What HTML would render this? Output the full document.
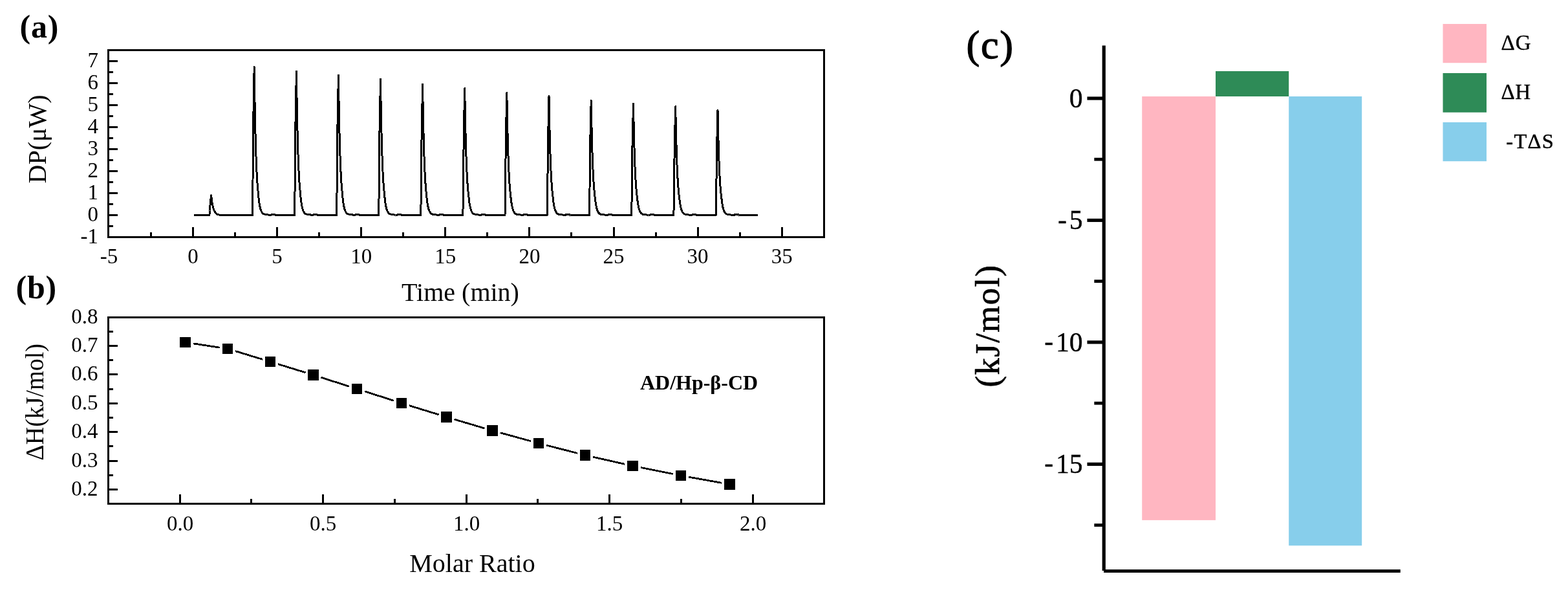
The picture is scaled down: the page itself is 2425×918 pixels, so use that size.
<!DOCTYPE html>
<html lang="en"><head><meta charset="utf-8"><title>ITC figure</title>
<style>
html,body{margin:0;padding:0;background:#fff;}
body{width:2425px;height:918px;overflow:hidden;}
svg{display:block;position:absolute;left:0;top:0;}
text{font-family:"Liberation Serif","DejaVu Serif",serif;fill:#000;}
.ax{stroke:#000;stroke-width:3;fill:none;shape-rendering:crispEdges;}
.tk{font-size:33px;}
.tt{font-size:40px;}
.pl{font-size:50px;font-weight:bold;}
.fb{stroke:#000;stroke-linejoin:round;}
</style></head><body>
<svg width="2425" height="918" viewBox="0 0 2425 918">
<rect x="0" y="0" width="2425" height="918" fill="#fff"/>
<g id="panel-a">
<rect x="166" y="76" width="1110" height="3" fill="#000" shape-rendering="crispEdges"/>
<rect x="166" y="365" width="1110" height="3" fill="#000" shape-rendering="crispEdges"/>
<rect x="166" y="76" width="3" height="292" fill="#000" shape-rendering="crispEdges"/>
<rect x="1273" y="76" width="3" height="292" fill="#000" shape-rendering="crispEdges"/>
<text x="152" y="376" class="tk" text-anchor="end" >-1</text>
<rect x="169" y="348" width="6" height="3" fill="#000" shape-rendering="crispEdges"/>
<rect x="169" y="331" width="13" height="3" fill="#000" shape-rendering="crispEdges"/>
<text x="152" y="342" class="tk" text-anchor="end" >0</text>
<rect x="169" y="314" width="6" height="3" fill="#000" shape-rendering="crispEdges"/>
<rect x="169" y="297" width="13" height="3" fill="#000" shape-rendering="crispEdges"/>
<text x="152" y="308" class="tk" text-anchor="end" >1</text>
<rect x="169" y="280" width="6" height="3" fill="#000" shape-rendering="crispEdges"/>
<rect x="169" y="263" width="13" height="3" fill="#000" shape-rendering="crispEdges"/>
<text x="152" y="274" class="tk" text-anchor="end" >2</text>
<rect x="169" y="246" width="6" height="3" fill="#000" shape-rendering="crispEdges"/>
<rect x="169" y="229" width="13" height="3" fill="#000" shape-rendering="crispEdges"/>
<text x="152" y="240" class="tk" text-anchor="end" >3</text>
<rect x="169" y="212" width="6" height="3" fill="#000" shape-rendering="crispEdges"/>
<rect x="169" y="195" width="13" height="3" fill="#000" shape-rendering="crispEdges"/>
<text x="152" y="206" class="tk" text-anchor="end" >4</text>
<rect x="169" y="178" width="6" height="3" fill="#000" shape-rendering="crispEdges"/>
<rect x="169" y="161" width="13" height="3" fill="#000" shape-rendering="crispEdges"/>
<text x="152" y="172" class="tk" text-anchor="end" >5</text>
<rect x="169" y="144" width="6" height="3" fill="#000" shape-rendering="crispEdges"/>
<rect x="169" y="127" width="13" height="3" fill="#000" shape-rendering="crispEdges"/>
<text x="152" y="138" class="tk" text-anchor="end" >6</text>
<rect x="169" y="110" width="6" height="3" fill="#000" shape-rendering="crispEdges"/>
<rect x="169" y="93" width="13" height="3" fill="#000" shape-rendering="crispEdges"/>
<text x="152" y="104" class="tk" text-anchor="end" >7</text>
<text x="168.4" y="407" class="tk" text-anchor="middle" >-5</text>
<rect x="232" y="359" width="3" height="6" fill="#000" shape-rendering="crispEdges"/>
<rect x="297" y="351" width="3" height="14" fill="#000" shape-rendering="crispEdges"/>
<text x="298.5" y="407" class="tk" text-anchor="middle" >0</text>
<rect x="362" y="359" width="3" height="6" fill="#000" shape-rendering="crispEdges"/>
<rect x="427" y="351" width="3" height="14" fill="#000" shape-rendering="crispEdges"/>
<text x="428.6" y="407" class="tk" text-anchor="middle" >5</text>
<rect x="492" y="359" width="3" height="6" fill="#000" shape-rendering="crispEdges"/>
<rect x="557" y="351" width="3" height="14" fill="#000" shape-rendering="crispEdges"/>
<text x="558.7" y="407" class="tk" text-anchor="middle" >10</text>
<rect x="622" y="359" width="3" height="6" fill="#000" shape-rendering="crispEdges"/>
<rect x="687" y="351" width="3" height="14" fill="#000" shape-rendering="crispEdges"/>
<text x="688.8" y="407" class="tk" text-anchor="middle" >15</text>
<rect x="752" y="359" width="3" height="6" fill="#000" shape-rendering="crispEdges"/>
<rect x="817" y="351" width="3" height="14" fill="#000" shape-rendering="crispEdges"/>
<text x="818.9" y="407" class="tk" text-anchor="middle" >20</text>
<rect x="882" y="359" width="3" height="6" fill="#000" shape-rendering="crispEdges"/>
<rect x="948" y="351" width="3" height="14" fill="#000" shape-rendering="crispEdges"/>
<text x="949" y="407" class="tk" text-anchor="middle" >25</text>
<rect x="1013" y="359" width="3" height="6" fill="#000" shape-rendering="crispEdges"/>
<rect x="1078" y="351" width="3" height="14" fill="#000" shape-rendering="crispEdges"/>
<text x="1079.1" y="407" class="tk" text-anchor="middle" >30</text>
<rect x="1143" y="359" width="3" height="6" fill="#000" shape-rendering="crispEdges"/>
<rect x="1208" y="351" width="3" height="14" fill="#000" shape-rendering="crispEdges"/>
<text x="1209.2" y="407" class="tk" text-anchor="middle" >35</text>
<path d="M299.5,332.5 L323.9,332.5 L324.5,325.5 L325.2,313.5 L326.7,301.9 L327.2,306.6 L327.7,310.6 L328.2,313.9 L328.7,316.8 L329.2,319.1 L329.7,321.1 L330.2,322.7 L330.7,324.1 L331.2,325.3 L331.7,326.2 L332.2,327.1 L332.7,327.8 L333.2,328.6 L333.7,329.2 L334.2,329.8 L334.7,330.2 L335.2,330.6 L335.7,330.9 L336.2,331.2 L336.7,331.4 L337.2,331.6 L337.7,331.7 L338.2,331.8 L338.7,331.9 L339.2,332.0 L339.7,332.1 L340.2,332.2 L340.7,332.2 L341.2,332.2 L341.7,332.3 L342.2,332.3 L342.7,332.3 L343.2,332.3 L343.7,332.3 L344.2,332.3 L344.7,332.4 L345.2,332.4 L345.7,332.4 L346.2,332.4 L346.7,332.4 L347.2,332.4 L347.7,332.4 L348.2,332.4 L348.7,332.4 L349.2,332.4 L349.7,332.5 L352.2,332.5 L353.2,332.5 L358.2,332.5 L359.2,332.5 L390.4,332.5 L391.0,279.8 L391.7,190.5 L393.2,103.5 L393.7,138.6 L394.2,168.3 L394.7,193.5 L395.2,214.8 L395.7,232.6 L396.2,246.9 L396.7,259.2 L397.2,269.7 L397.7,278.4 L398.2,285.6 L398.7,291.8 L399.2,297.2 L399.7,303.0 L400.2,307.9 L400.7,311.9 L401.2,315.3 L401.7,318.1 L402.2,320.5 L402.7,322.5 L403.2,324.1 L403.7,325.4 L404.2,326.6 L404.7,327.5 L405.2,328.3 L405.7,329.0 L406.2,329.6 L406.7,330.0 L407.2,330.4 L407.7,330.6 L408.2,330.8 L408.7,330.9 L409.2,331.0 L409.7,331.2 L410.2,331.3 L410.7,331.4 L411.2,331.5 L411.7,331.5 L412.2,331.6 L412.7,331.7 L413.2,331.8 L413.7,331.8 L414.2,331.9 L414.7,331.9 L415.2,332.0 L415.7,332.0 L416.2,332.5 L418.7,332.5 L419.7,331.5 L424.7,331.5 L425.7,332.5 L455.6,332.5 L456.2,281.3 L456.9,194.6 L458.4,110.0 L458.9,144.1 L459.4,173.0 L459.9,197.4 L460.4,218.1 L460.9,235.4 L461.4,249.3 L461.9,261.3 L462.4,271.5 L462.9,280.0 L463.4,286.9 L463.9,293.0 L464.4,298.2 L464.9,303.9 L465.4,308.6 L465.9,312.5 L466.4,315.8 L466.9,318.6 L467.4,320.9 L467.9,322.8 L468.4,324.3 L468.9,325.6 L469.4,326.7 L469.9,327.7 L470.4,328.5 L470.9,329.1 L471.4,329.7 L471.9,330.1 L472.4,330.5 L472.9,330.7 L473.4,330.8 L473.9,331.0 L474.4,331.1 L474.9,331.2 L475.4,331.3 L475.9,331.4 L476.4,331.5 L476.9,331.6 L477.4,331.6 L477.9,331.7 L478.4,331.8 L478.9,331.8 L479.4,331.9 L479.9,331.9 L480.4,332.0 L480.9,332.0 L481.4,332.5 L483.9,332.5 L484.9,331.5 L489.9,331.5 L490.9,332.5 L520.6,332.5 L521.2,282.7 L521.9,198.3 L523.4,116.0 L523.9,149.2 L524.4,177.3 L524.9,201.1 L525.4,221.2 L525.9,238.0 L526.4,251.6 L526.9,263.2 L527.4,273.1 L527.9,281.4 L528.4,288.2 L528.9,294.1 L529.4,299.2 L529.9,304.6 L530.4,309.2 L530.9,313.1 L531.4,316.3 L531.9,318.9 L532.4,321.2 L532.9,323.0 L533.4,324.5 L533.9,325.8 L534.4,326.9 L534.9,327.8 L535.4,328.6 L535.9,329.2 L536.4,329.7 L536.9,330.2 L537.4,330.6 L537.9,330.7 L538.4,330.9 L538.9,331.0 L539.4,331.1 L539.9,331.2 L540.4,331.3 L540.9,331.4 L541.4,331.5 L541.9,331.6 L542.4,331.7 L542.9,331.7 L543.4,331.8 L543.9,331.9 L544.4,331.9 L544.9,331.9 L545.4,332.0 L545.9,332.0 L546.4,332.5 L548.9,332.5 L549.9,331.5 L554.9,331.5 L555.9,332.5 L585.7,332.5 L586.3,284.2 L587.0,202.3 L588.5,122.5 L589.0,154.7 L589.5,181.9 L590.0,205.0 L590.5,224.5 L591.0,240.9 L591.5,254.0 L592.0,265.3 L592.5,274.9 L593.0,282.9 L593.5,289.5 L594.0,295.2 L594.5,300.2 L595.0,305.5 L595.5,309.9 L596.0,313.6 L596.5,316.7 L597.0,319.3 L597.5,321.5 L598.0,323.3 L598.5,324.8 L599.0,326.0 L599.5,327.1 L600.0,327.9 L600.5,328.7 L601.0,329.3 L601.5,329.8 L602.0,330.2 L602.5,330.6 L603.0,330.8 L603.5,330.9 L604.0,331.0 L604.5,331.2 L605.0,331.3 L605.5,331.4 L606.0,331.5 L606.5,331.6 L607.0,331.6 L607.5,331.7 L608.0,331.8 L608.5,331.8 L609.0,331.9 L609.5,331.9 L610.0,332.0 L610.5,332.0 L611.0,332.0 L611.5,332.5 L614.0,332.5 L615.0,331.5 L620.0,331.5 L621.0,332.5 L650.8,332.5 L651.4,286.1 L652.1,207.3 L653.6,130.6 L654.1,161.5 L654.6,187.7 L655.1,209.9 L655.6,228.7 L656.1,244.4 L656.6,257.0 L657.1,267.9 L657.6,277.1 L658.1,284.8 L658.6,291.2 L659.1,296.6 L659.6,301.4 L660.1,306.5 L660.6,310.8 L661.1,314.4 L661.6,317.4 L662.1,319.8 L662.6,321.9 L663.1,323.7 L663.6,325.1 L664.1,326.3 L664.6,327.3 L665.1,328.1 L665.6,328.8 L666.1,329.4 L666.6,329.9 L667.1,330.3 L667.6,330.7 L668.1,330.8 L668.6,331.0 L669.1,331.1 L669.6,331.2 L670.1,331.3 L670.6,331.4 L671.1,331.5 L671.6,331.6 L672.1,331.7 L672.6,331.7 L673.1,331.8 L673.6,331.8 L674.1,331.9 L674.6,331.9 L675.1,332.0 L675.6,332.0 L676.1,332.1 L676.6,332.5 L679.1,332.5 L680.1,331.5 L685.1,331.5 L686.1,332.5 L715.9,332.5 L716.5,287.4 L717.2,211.0 L718.7,136.6 L719.2,166.6 L719.7,192.0 L720.2,213.6 L720.7,231.8 L721.2,247.0 L721.7,259.3 L722.2,269.8 L722.7,278.8 L723.2,286.2 L723.7,292.4 L724.2,297.7 L724.7,302.3 L725.2,307.3 L725.7,311.4 L726.2,314.9 L726.7,317.8 L727.2,320.2 L727.7,322.2 L728.2,323.9 L728.7,325.3 L729.2,326.5 L729.7,327.4 L730.2,328.3 L730.7,328.9 L731.2,329.5 L731.7,330.0 L732.2,330.4 L732.7,330.7 L733.2,330.9 L733.7,331.0 L734.2,331.1 L734.7,331.3 L735.2,331.4 L735.7,331.5 L736.2,331.5 L736.7,331.6 L737.2,331.7 L737.7,331.8 L738.2,331.8 L738.7,331.9 L739.2,331.9 L739.7,332.0 L740.2,332.0 L740.7,332.0 L741.2,332.1 L741.7,332.5 L744.2,332.5 L745.2,331.5 L750.2,331.5 L751.2,332.5 L781.0,332.5 L781.6,289.1 L782.3,215.4 L783.8,143.6 L784.3,172.5 L784.8,197.1 L785.3,217.8 L785.8,235.4 L786.3,250.1 L786.8,261.9 L787.3,272.0 L787.8,280.7 L788.3,287.9 L788.8,293.8 L789.3,299.0 L789.8,303.4 L790.3,308.2 L790.8,312.2 L791.3,315.5 L791.8,318.3 L792.3,320.7 L792.8,322.6 L793.3,324.2 L793.8,325.6 L794.3,326.7 L794.8,327.6 L795.3,328.4 L795.8,329.1 L796.3,329.6 L796.8,330.1 L797.3,330.5 L797.8,330.8 L798.3,330.9 L798.8,331.1 L799.3,331.2 L799.8,331.3 L800.3,331.4 L800.8,331.5 L801.3,331.6 L801.8,331.6 L802.3,331.7 L802.8,331.8 L803.3,331.8 L803.8,331.9 L804.3,331.9 L804.8,332.0 L805.3,332.0 L805.8,332.1 L806.3,332.1 L806.8,332.5 L809.3,332.5 L810.3,331.5 L815.3,331.5 L816.3,332.5 L846.2,332.5 L846.8,290.2 L847.5,218.5 L849.0,148.6 L849.5,176.8 L850.0,200.6 L850.5,220.9 L851.0,238.0 L851.5,252.3 L852.0,263.8 L852.5,273.6 L853.0,282.1 L853.5,289.1 L854.0,294.8 L854.5,299.8 L855.0,304.2 L855.5,308.8 L856.0,312.7 L856.5,316.0 L857.0,318.7 L857.5,321.0 L858.0,322.9 L858.5,324.4 L859.0,325.7 L859.5,326.8 L860.0,327.7 L860.5,328.5 L861.0,329.2 L861.5,329.7 L862.0,330.1 L862.5,330.5 L863.0,330.8 L863.5,331.0 L864.0,331.1 L864.5,331.2 L865.0,331.3 L865.5,331.4 L866.0,331.5 L866.5,331.6 L867.0,331.7 L867.5,331.7 L868.0,331.8 L868.5,331.9 L869.0,331.9 L869.5,331.9 L870.0,332.0 L870.5,332.0 L871.0,332.1 L871.5,332.1 L872.0,332.5 L874.5,332.5 L875.5,331.5 L880.5,331.5 L881.5,332.5 L911.4,332.5 L912.0,291.8 L912.7,222.8 L914.2,155.6 L914.7,182.7 L915.2,205.7 L915.7,225.1 L916.2,241.6 L916.7,255.3 L917.2,266.4 L917.7,275.9 L918.2,284.0 L918.7,290.7 L919.2,296.3 L919.7,301.1 L920.2,305.3 L920.7,309.7 L921.2,313.5 L921.7,316.6 L922.2,319.2 L922.7,321.4 L923.2,323.2 L923.7,324.8 L924.2,326.0 L924.7,327.0 L925.2,327.9 L925.7,328.7 L926.2,329.3 L926.7,329.8 L927.2,330.2 L927.7,330.6 L928.2,330.9 L928.7,331.0 L929.2,331.2 L929.7,331.3 L930.2,331.4 L930.7,331.5 L931.2,331.6 L931.7,331.6 L932.2,331.7 L932.7,331.8 L933.2,331.8 L933.7,331.9 L934.2,331.9 L934.7,332.0 L935.2,332.0 L935.7,332.0 L936.2,332.1 L936.7,332.1 L937.2,332.5 L939.7,332.5 L940.7,331.5 L945.7,331.5 L946.7,332.5 L976.7,332.5 L977.3,293.0 L978.0,225.9 L979.5,160.6 L980.0,186.9 L980.5,209.3 L981.0,228.1 L981.5,244.1 L982.0,257.5 L982.5,268.2 L983.0,277.5 L983.5,285.3 L984.0,291.9 L984.5,297.3 L985.0,302.0 L985.5,306.0 L986.0,310.4 L986.5,314.0 L987.0,317.1 L987.5,319.6 L988.0,321.7 L988.5,323.5 L989.0,325.0 L989.5,326.2 L990.0,327.2 L990.5,328.1 L991.0,328.8 L991.5,329.4 L992.0,329.9 L992.5,330.3 L993.0,330.7 L993.5,331.0 L994.0,331.1 L994.5,331.2 L995.0,331.3 L995.5,331.4 L996.0,331.5 L996.5,331.6 L997.0,331.7 L997.5,331.7 L998.0,331.8 L998.5,331.8 L999.0,331.9 L999.5,331.9 L1000.0,332.0 L1000.5,332.0 L1001.0,332.1 L1001.5,332.1 L1002.0,332.1 L1002.5,332.5 L1005.0,332.5 L1006.0,331.5 L1011.0,331.5 L1012.0,332.5 L1041.9,332.5 L1042.5,293.9 L1043.2,228.4 L1044.7,164.6 L1045.2,190.3 L1045.7,212.1 L1046.2,230.6 L1046.7,246.2 L1047.2,259.2 L1047.7,269.7 L1048.2,278.7 L1048.7,286.4 L1049.2,292.9 L1049.7,298.1 L1050.2,302.7 L1050.7,306.6 L1051.2,310.9 L1051.7,314.5 L1052.2,317.4 L1052.7,319.9 L1053.2,322.0 L1053.7,323.7 L1054.2,325.1 L1054.7,326.3 L1055.2,327.3 L1055.7,328.2 L1056.2,328.9 L1056.7,329.4 L1057.2,329.9 L1057.7,330.4 L1058.2,330.7 L1058.7,331.0 L1059.2,331.1 L1059.7,331.2 L1060.2,331.3 L1060.7,331.4 L1061.2,331.5 L1061.7,331.6 L1062.2,331.7 L1062.7,331.7 L1063.2,331.8 L1063.7,331.9 L1064.2,331.9 L1064.7,332.0 L1065.2,332.0 L1065.7,332.0 L1066.2,332.1 L1066.7,332.1 L1067.2,332.1 L1067.7,332.5 L1070.2,332.5 L1071.2,331.5 L1076.2,331.5 L1077.2,332.5 L1107.2,332.5 L1107.8,295.1 L1108.5,231.8 L1110.0,170.1 L1110.5,195.0 L1111.0,216.1 L1111.5,233.9 L1112.0,249.0 L1112.5,261.6 L1113.0,271.8 L1113.5,280.5 L1114.0,288.0 L1114.5,294.1 L1115.0,299.2 L1115.5,303.7 L1116.0,307.5 L1116.5,311.6 L1117.0,315.0 L1117.5,317.9 L1118.0,320.3 L1118.5,322.3 L1119.0,324.0 L1119.5,325.4 L1120.0,326.5 L1120.5,327.5 L1121.0,328.3 L1121.5,329.0 L1122.0,329.5 L1122.5,330.0 L1123.0,330.4 L1123.5,330.8 L1124.0,331.0 L1124.5,331.2 L1125.0,331.3 L1125.5,331.4 L1126.0,331.5 L1126.5,331.6 L1127.0,331.6 L1127.5,331.7 L1128.0,331.8 L1128.5,331.8 L1129.0,331.9 L1129.5,331.9 L1130.0,332.0 L1130.5,332.0 L1131.0,332.1 L1131.5,332.1 L1132.0,332.1 L1132.5,332.1 L1133.0,332.5 L1135.5,332.5 L1136.5,331.5 L1141.5,331.5 L1142.5,332.5 L1172.0,332.5" fill="none" stroke="#000" stroke-width="3" stroke-linejoin="round" stroke-linecap="butt" shape-rendering="crispEdges"/>
<text x="30.5" y="58" class="pl" text-anchor="start" style="letter-spacing:0.8px">(a)</text>
<text class="tt" text-anchor="middle" transform="translate(71,215) rotate(-90)">DP(μW)</text>
<text x="712" y="465" class="tt" text-anchor="middle" >Time (min)</text>
</g>
<g id="panel-b">
<rect x="166" y="489" width="1110" height="3" fill="#000" shape-rendering="crispEdges"/>
<rect x="166" y="777" width="1110" height="3" fill="#000" shape-rendering="crispEdges"/>
<rect x="166" y="489" width="3" height="291" fill="#000" shape-rendering="crispEdges"/>
<rect x="1273" y="489" width="3" height="291" fill="#000" shape-rendering="crispEdges"/>
<rect x="169" y="755" width="13" height="3" fill="#000" shape-rendering="crispEdges"/>
<rect x="169" y="733" width="6" height="3" fill="#000" shape-rendering="crispEdges"/>
<text x="151.5" y="765.5" class="tk" text-anchor="end" >0.2</text>
<rect x="169" y="711" width="13" height="3" fill="#000" shape-rendering="crispEdges"/>
<rect x="169" y="688" width="6" height="3" fill="#000" shape-rendering="crispEdges"/>
<text x="151.5" y="721.5" class="tk" text-anchor="end" >0.3</text>
<rect x="169" y="666" width="13" height="3" fill="#000" shape-rendering="crispEdges"/>
<rect x="169" y="644" width="6" height="3" fill="#000" shape-rendering="crispEdges"/>
<text x="151.5" y="676.5" class="tk" text-anchor="end" >0.4</text>
<rect x="169" y="622" width="13" height="3" fill="#000" shape-rendering="crispEdges"/>
<rect x="169" y="600" width="6" height="3" fill="#000" shape-rendering="crispEdges"/>
<text x="151.5" y="632.5" class="tk" text-anchor="end" >0.5</text>
<rect x="169" y="577" width="13" height="3" fill="#000" shape-rendering="crispEdges"/>
<rect x="169" y="555" width="6" height="3" fill="#000" shape-rendering="crispEdges"/>
<text x="151.5" y="587.5" class="tk" text-anchor="end" >0.6</text>
<rect x="169" y="533" width="13" height="3" fill="#000" shape-rendering="crispEdges"/>
<rect x="169" y="511" width="6" height="3" fill="#000" shape-rendering="crispEdges"/>
<text x="151.5" y="543.5" class="tk" text-anchor="end" >0.7</text>
<text x="151.5" y="499.5" class="tk" text-anchor="end" >0.8</text>
<rect x="277" y="764" width="3" height="13" fill="#000" shape-rendering="crispEdges"/>
<text x="278.5" y="820" class="tk" text-anchor="middle" >0.0</text>
<rect x="387" y="771" width="3" height="6" fill="#000" shape-rendering="crispEdges"/>
<rect x="498" y="764" width="3" height="13" fill="#000" shape-rendering="crispEdges"/>
<text x="499.5" y="820" class="tk" text-anchor="middle" >0.5</text>
<rect x="609" y="771" width="3" height="6" fill="#000" shape-rendering="crispEdges"/>
<rect x="720" y="764" width="3" height="13" fill="#000" shape-rendering="crispEdges"/>
<text x="721.5" y="820" class="tk" text-anchor="middle" >1.0</text>
<rect x="830" y="771" width="3" height="6" fill="#000" shape-rendering="crispEdges"/>
<rect x="941" y="764" width="3" height="13" fill="#000" shape-rendering="crispEdges"/>
<text x="942.5" y="820" class="tk" text-anchor="middle" >1.5</text>
<rect x="1052" y="771" width="3" height="6" fill="#000" shape-rendering="crispEdges"/>
<rect x="1163" y="764" width="3" height="13" fill="#000" shape-rendering="crispEdges"/>
<text x="1164.5" y="820" class="tk" text-anchor="middle" >2.0</text>
<line x1="298.9" y1="530.9" x2="339.6" y2="537.1" stroke="#000" stroke-width="2.8" shape-rendering="crispEdges"/>
<line x1="364.0" y1="542.6" x2="406.0" y2="555.4" stroke="#000" stroke-width="2.8" shape-rendering="crispEdges"/>
<line x1="429.9" y1="562.7" x2="472.6" y2="575.8" stroke="#000" stroke-width="2.8" shape-rendering="crispEdges"/>
<line x1="496.4" y1="583.3" x2="540.1" y2="597.2" stroke="#000" stroke-width="2.8" shape-rendering="crispEdges"/>
<line x1="563.9" y1="604.8" x2="609.1" y2="619.2" stroke="#000" stroke-width="2.8" shape-rendering="crispEdges"/>
<line x1="632.9" y1="626.7" x2="678.6" y2="640.8" stroke="#000" stroke-width="2.8" shape-rendering="crispEdges"/>
<line x1="702.5" y1="648.0" x2="749.5" y2="662.0" stroke="#000" stroke-width="2.8" shape-rendering="crispEdges"/>
<line x1="773.6" y1="668.8" x2="820.9" y2="681.7" stroke="#000" stroke-width="2.8" shape-rendering="crispEdges"/>
<line x1="845.1" y1="688.1" x2="892.9" y2="700.4" stroke="#000" stroke-width="2.8" shape-rendering="crispEdges"/>
<line x1="917.2" y1="706.2" x2="966.3" y2="717.3" stroke="#000" stroke-width="2.8" shape-rendering="crispEdges"/>
<line x1="990.8" y1="722.5" x2="1040.7" y2="732.5" stroke="#000" stroke-width="2.8" shape-rendering="crispEdges"/>
<line x1="1065.3" y1="737.2" x2="1116.2" y2="746.3" stroke="#000" stroke-width="2.8" shape-rendering="crispEdges"/>
<rect x="278" y="521" width="17" height="16" fill="#000" shape-rendering="crispEdges"/>
<rect x="344" y="531" width="16" height="16" fill="#000" shape-rendering="crispEdges"/>
<rect x="410" y="551" width="16" height="16" fill="#000" shape-rendering="crispEdges"/>
<rect x="476" y="571" width="17" height="17" fill="#000" shape-rendering="crispEdges"/>
<rect x="544" y="593" width="16" height="16" fill="#000" shape-rendering="crispEdges"/>
<rect x="613" y="615" width="16" height="16" fill="#000" shape-rendering="crispEdges"/>
<rect x="682" y="636" width="17" height="17" fill="#000" shape-rendering="crispEdges"/>
<rect x="753" y="657" width="17" height="17" fill="#000" shape-rendering="crispEdges"/>
<rect x="825" y="677" width="16" height="16" fill="#000" shape-rendering="crispEdges"/>
<rect x="897" y="695" width="16" height="17" fill="#000" shape-rendering="crispEdges"/>
<rect x="970" y="712" width="17" height="16" fill="#000" shape-rendering="crispEdges"/>
<rect x="1045" y="727" width="16" height="16" fill="#000" shape-rendering="crispEdges"/>
<rect x="1120" y="740" width="17" height="17" fill="#000" shape-rendering="crispEdges"/>
<text x="24.5" y="461" class="pl" text-anchor="start" style="letter-spacing:0.8px">(b)</text>
<text class="tt" text-anchor="middle" transform="translate(66.5,621.4) rotate(-90) scale(0.95,1)">ΔH(kJ/mol)</text>
<text x="730.5" y="884" class="tt" text-anchor="middle" >Molar Ratio</text>
<text x="1081" y="602" text-anchor="middle" style="font-size:32px;font-weight:bold">AD/Hp-β-CD</text>
</g>
<g id="panel-c">
<rect x="1766.2" y="149" width="113.8" height="654.9" fill="#FFB6C1" />
<rect x="1880" y="110" width="113.2" height="39" fill="#2E8B57" />
<rect x="1993.2" y="149" width="113" height="694.2" fill="#87CEEB" />
<rect x="1704.6" y="70.4" width="5.2" height="811.6" fill="#000" />
<rect x="1707" y="880.1" width="458.8" height="4.9" fill="#000" />
<rect x="1681.4" y="149.4" width="24.6" height="5.2" fill="#000" />
<text x="1674.6" y="165.6" class="fb" text-anchor="end" style="font-size:41.5px;stroke-width:0.4px">0</text>
<rect x="1692.3" y="243.825" width="13.7" height="4.8" fill="#000" />
<rect x="1681.4" y="337.85" width="24.6" height="5.2" fill="#000" />
<text x="1674.6" y="354.05" class="fb" text-anchor="end" style="font-size:41.5px;stroke-width:0.4px"><tspan letter-spacing="4" dy="-1.5">-</tspan><tspan dy="1.5">5</tspan></text>
<rect x="1692.3" y="432.275" width="13.7" height="4.8" fill="#000" />
<rect x="1681.4" y="526.3" width="24.6" height="5.2" fill="#000" />
<text x="1674.6" y="542.5" class="fb" text-anchor="end" style="font-size:41.5px;stroke-width:0.4px"><tspan letter-spacing="4" dy="-1.5">-</tspan><tspan dy="1.5">10</tspan></text>
<rect x="1692.3" y="620.725" width="13.7" height="4.8" fill="#000" />
<rect x="1681.4" y="714.75" width="24.6" height="5.2" fill="#000" />
<text x="1674.6" y="730.95" class="fb" text-anchor="end" style="font-size:41.5px;stroke-width:0.4px"><tspan letter-spacing="4" dy="-1.5">-</tspan><tspan dy="1.5">15</tspan></text>
<rect x="1692.3" y="809.175" width="13.7" height="4.8" fill="#000" />
<text x="1494.5" y="89.5" class="fb" text-anchor="start" style="font-size:62px;stroke-width:1.3px;letter-spacing:1.8px">(c)</text>
<text class="fb" text-anchor="middle" transform="translate(1545.4,503.5) rotate(-90)" style="font-size:52.5px;stroke-width:0.7px;letter-spacing:1.5px">(kJ/mol)</text>
<rect x="2231.5" y="37" width="67.5" height="60.2" fill="#FFB6C1" />
<text x="2321.5" y="77.3" class="fb" text-anchor="start" style="font-size:33px;stroke-width:0.4px;letter-spacing:1.0px">ΔG</text>
<rect x="2231.5" y="113" width="67.5" height="60.7" fill="#2E8B57" />
<text x="2321.5" y="153.3" class="fb" text-anchor="start" style="font-size:33px;stroke-width:0.4px;letter-spacing:0.5px">ΔH</text>
<rect x="2231.5" y="189" width="67.5" height="60.2" fill="#87CEEB" />
<text x="2329.3" y="229.3" class="fb" text-anchor="start" style="font-size:32.5px;stroke-width:0.5px;letter-spacing:1.3px">-TΔS</text>
</g>
</svg></body></html>
